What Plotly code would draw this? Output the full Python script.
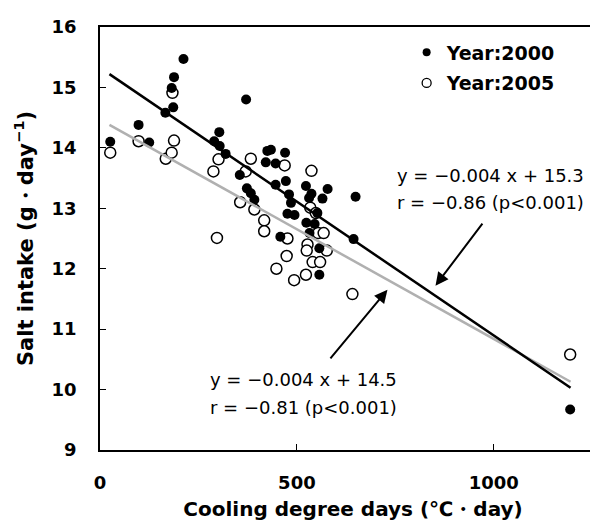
import plotly.graph_objects as go

# ---- data ----
cdd_2000 = [26, 98, 125, 166, 182, 188, 186, 212, 371, 290, 303, 304, 319, 355, 373,
            383, 392, 425, 434, 421, 446, 470, 446, 472, 523, 578, 565, 537, 531, 480,
            485, 649, 476, 494, 552, 524, 545, 532, 458, 644, 557, 557, 1194]
salt_2000 = [14.10, 14.38, 14.09, 14.58, 14.99, 15.17, 14.67, 15.47, 14.80, 14.11, 14.26,
             14.03, 13.90, 13.55, 13.33, 13.25, 13.14, 13.95, 13.97, 13.76, 13.74, 13.92,
             13.39, 13.45, 13.37, 13.32, 13.16, 13.24, 13.17, 13.23, 13.09, 13.19, 12.91,
             12.89, 12.92, 12.76, 12.74, 12.59, 12.53, 12.49, 12.34, 11.90, 9.67]

cdd_2005 = [26, 98, 167, 182, 188, 184, 288, 301, 297, 356, 370, 383, 392, 417, 417,
            469, 537, 534, 548, 554, 568, 576, 476, 527, 525, 474, 540, 559, 448, 523,
            493, 641, 1194]
salt_2005 = [13.92, 14.11, 13.82, 13.92, 14.12, 14.91, 13.61, 13.81, 12.51, 13.10, 13.61,
             13.82, 12.98, 12.80, 12.62, 13.71, 13.62, 13.01, 12.92, 12.59, 12.59, 12.30,
             12.50, 12.40, 12.30, 12.21, 12.11, 12.11, 12.00, 11.90, 11.81, 11.58, 10.58]

# regression line end points
line_x = [24, 1195]
line_2000 = [15.22, 10.03]
line_2005 = [14.38, 10.13]

x_ticks = [0, 500, 1000]
y_ticks = [9, 10, 11, 12, 13, 14, 15, 16]

FONT = "DejaVu Sans"

fig = go.Figure()
fig.add_trace(go.Scatter(
    x=cdd_2005, y=salt_2005, mode="markers", showlegend=False,
    marker=dict(symbol="circle", size=11, color="white",
                line=dict(color="black", width=1.5))))
fig.add_trace(go.Scatter(
    x=cdd_2000, y=salt_2000, mode="markers", showlegend=False,
    marker=dict(symbol="circle", size=10, color="black",
                line=dict(color="black", width=0))))
fig.add_trace(go.Scatter(x=line_x, y=line_2005, mode="lines", showlegend=False,
                         line=dict(color="#b0b0b0", width=2.5)))
fig.add_trace(go.Scatter(x=line_x, y=line_2000, mode="lines", showlegend=False,
                         line=dict(color="black", width=2.5)))
# legend entries (smaller symbols, as in the reference)
fig.add_trace(go.Scatter(
    x=[None], y=[None], mode="markers", name="Year:2000", legendgroup="a",
    marker=dict(symbol="circle", size=8, color="black")))
fig.add_trace(go.Scatter(
    x=[None], y=[None], mode="markers", name="Year:2005", legendgroup="b",
    marker=dict(symbol="circle", size=9, color="white",
                line=dict(color="black", width=1.3))))

ann_font = dict(family=FONT, size=18, color="black")
annotations = [
    dict(x=748, y=13.54, text="y = −0.004 x + 15.3", showarrow=False,
         xanchor="left", yanchor="middle", font=ann_font),
    dict(x=748, y=13.09, text="r = −0.86 (p&lt;0.001)", showarrow=False,
         xanchor="left", yanchor="middle", font=ann_font),
    dict(x=273, y=10.16, text="y = −0.004 x + 14.5", showarrow=False,
         xanchor="left", yanchor="middle", font=ann_font),
    dict(x=273, y=9.70, text="r = −0.81 (p&lt;0.001)", showarrow=False,
         xanchor="left", yanchor="middle", font=ann_font),
    dict(x=852, y=11.72, ax=974, ay=12.77, axref="x", ayref="y", xref="x", yref="y",
         showarrow=True, arrowhead=2, arrowsize=1.3, arrowwidth=2, arrowcolor="black", text=""),
    dict(x=730, y=11.65, ax=582, ay=10.49, axref="x", ayref="y", xref="x", yref="y",
         showarrow=True, arrowhead=2, arrowsize=1.3, arrowwidth=2, arrowcolor="black", text=""),
]

fig.update_layout(
    width=598, height=525,
    margin=dict(l=92, r=0, t=19, b=83, autoexpand=False),
    paper_bgcolor="white", plot_bgcolor="white",
    showlegend=True,
    legend=dict(x=0.606, y=0.985, xanchor="left", yanchor="top",
                font=dict(family=FONT, size=19, color="black", weight="bold"),
                bgcolor="rgba(0,0,0,0)", itemwidth=30, traceorder="grouped",
                tracegroupgap=3),
    annotations=annotations,
    xaxis=dict(range=[0, 1285], tickvals=x_ticks, ticks="inside", ticklen=6,
               tickcolor="black", showline=True, linecolor="black", linewidth=1.5,
               mirror=True, showgrid=False, zeroline=False, automargin=False,
               tickfont=dict(family=FONT, size=18, color="black", weight="bold"),
               ticklabelstandoff=16,
               title=dict(text="Cooling degree days (℃・day)", standoff=10,
                          font=dict(family=FONT, size=20, color="black", weight="bold"))),
    yaxis=dict(range=[9, 16], tickvals=y_ticks, ticks="inside", ticklen=6,
               tickcolor="black", showline=True, linecolor="black", linewidth=1.5,
               showgrid=False, zeroline=False, automargin=False,
               tickfont=dict(family=FONT, size=18, color="black", weight="bold"),
               ticklabelstandoff=18,
               title=dict(text="Salt intake (g・day<sup>−1</sup>)", standoff=12,
                          font=dict(family=FONT, size=21, color="black", weight="bold"))),
)

fig.write_html("out.html")
